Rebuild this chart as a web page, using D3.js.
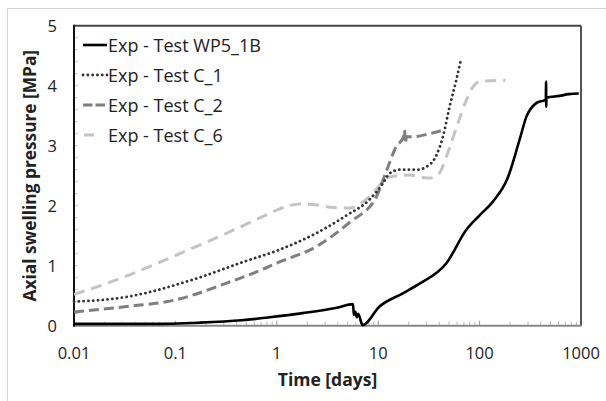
<!DOCTYPE html>
<html><head><meta charset="utf-8">
<script src="https://cdn.jsdelivr.net/npm/d3@7"></script>
<style>body{margin:0;background:#fff}svg{display:block}text{font-family:"Open Sans","Liberation Sans",sans-serif}</style>
</head><body><svg id="c" width="606" height="401"></svg>
<script>
const seriesNames = ["Exp - Test WP5_1B","Exp - Test C_1","Exp - Test C_2","Exp - Test C_6"];
const wp5_1b = [[0.01,0.03],[0.05,0.03],[0.17,0.05],[0.45,0.09],[0.85,0.14],[1.8,0.21],[3.9,0.30],[5.65,0.36],[5.75,0.18],[5.95,0.23],[6.15,0.14],[6.35,0.2],[7.0,0.01],[10.3,0.32],[17.5,0.54],[25.6,0.7],[47,1.04],[74,1.6],[100,1.84],[134,2.06],[189,2.46],[248,3.1],[289,3.48],[362,3.71],[450,3.77],[452,4.07],[454,3.65],[456,3.8],[614,3.83],[760,3.86],[950,3.87]];
const c_1 = [[0.01,0.40],[0.033,0.48],[0.15,0.77],[0.5,1.08],[1.0,1.25],[2.5,1.55],[5.0,1.85],[8.2,2.1],[11,2.36],[13,2.54],[16.3,2.6],[24,2.6],[30,2.65],[37,2.82],[43.5,3.15],[50.6,3.65],[59,4.1],[66,4.46]];
const c_2 = [[0.01,0.23],[0.033,0.32],[0.1,0.43],[0.32,0.71],[0.8,0.97],[1.02,1.05],[2.46,1.32],[5.2,1.72],[9.6,2.15],[12,2.57],[15,2.98],[17.8,3.15],[18.2,3.26],[18.5,3.04],[19,3.15],[22,3.15],[32,3.2],[44,3.26]];
const c_6 = [[0.01,0.52],[0.03,0.8],[0.1,1.17],[0.3,1.52],[0.8,1.85],[1.2,1.98],[1.7,2.03],[2.5,2.01],[3.6,1.97],[5.2,1.96],[8.2,2.15],[13,2.48],[20,2.51],[32,2.46],[40,2.54],[47,2.82],[61,3.37],[74,3.76],[86,3.98],[100,4.07],[180,4.09]];
const xTicks = [0.01,0.1,1,10,100,1000];
const xTickLabels = ["0.01","0.1","1","10","100","1000"];
const yTicks = [0,1,2,3,4,5];

const svg = d3.select("#c");
const L=74,R=581,T=25.7,B=325.7;
const x = d3.scaleLog().domain([0.01,1000]).range([L,R]);
const y = d3.scaleLinear().domain([0,5]).range([B,T]);

svg.append("rect").attr("x",7.5).attr("y",8.5).attr("width",620).attr("height",420).attr("fill","none").attr("stroke","#d4d4d4").attr("stroke-width",1);

const minor=[];
for(let e=-2;e<3;e++) for(let k=2;k<=9;k++) minor.push(k*Math.pow(10,e));
svg.append("g").selectAll("line").data(minor).join("line")
  .attr("x1",d=>x(d)).attr("x2",d=>x(d)).attr("y1",B).attr("y2",B-4).attr("stroke","#bbb").attr("stroke-width",1);
svg.append("g").selectAll("line").data(xTicks).join("line")
  .attr("x1",d=>x(d)).attr("x2",d=>x(d)).attr("y1",B).attr("y2",B-5).attr("stroke","#999").attr("stroke-width",1);
const yMinor=d3.range(0,25).map(i=>i*0.2);
svg.append("g").selectAll("line").data(yMinor).join("line")
  .attr("x1",L).attr("x2",L+4).attr("y1",d=>y(d)).attr("y2",d=>y(d)).attr("stroke","#ccc").attr("stroke-width",1);

svg.append("line").attr("x1",L).attr("x2",R).attr("y1",T).attr("y2",T).attr("stroke","#444").attr("stroke-width",2);
svg.append("line").attr("x1",R).attr("x2",R).attr("y1",T).attr("y2",B).attr("stroke","#555").attr("stroke-width",2);
svg.append("line").attr("x1",L).attr("x2",R).attr("y1",B).attr("y2",B).attr("stroke","#888").attr("stroke-width",2);
svg.append("line").attr("x1",L).attr("x2",L).attr("y1",T-1).attr("y2",B+1).attr("stroke","#111").attr("stroke-width",2);

svg.append("g").selectAll("text").data(xTicks).join("text")
  .attr("x",d=>x(d)).attr("y",B+33).attr("text-anchor","middle").attr("font-size",16.5).attr("fill","#222")
  .text((d,i)=>xTickLabels[i]);
svg.append("g").selectAll("text").data(yTicks).join("text")
  .attr("x",L-17).attr("y",d=>y(d)+6).attr("text-anchor","end").attr("font-size",16.5).attr("fill","#222").text(d=>d);

svg.append("text").attr("x",(L+R)/2).attr("y",386).attr("text-anchor","middle").attr("font-size",17.5).attr("font-weight","bold").attr("fill","#222").text("Time [days]");
svg.append("text").attr("transform",`translate(36,${(T+B)/2}) rotate(-90)`).attr("text-anchor","middle").attr("font-size",17.3).attr("font-weight","bold").attr("fill","#222").text("Axial swelling pressure [MPa]");

const line = d3.line().x(d=>x(d[0])).y(d=>y(d[1])).curve(d3.curveMonotoneX);
const styles=[
  {data:wp5_1b,stroke:"#000",w:2.6,dash:null,cap:"butt"},
  {data:c_1,stroke:"#333",w:2.8,dash:"0.1 4.7",cap:"round"},
  {data:c_2,stroke:"#7f7f7f",w:3,dash:"10 5",cap:"butt"},
  {data:c_6,stroke:"#c4c4c4",w:3,dash:"11 7",cap:"butt"}
];
const g=svg.append("g");
[3,2,1,0].forEach(i=>{
  const s=styles[i];
  g.append("path").attr("d",line(s.data)).attr("fill","none").attr("stroke",s.stroke).attr("stroke-width",s.w)
   .attr("stroke-dasharray",s.dash).attr("stroke-linecap",s.cap).attr("stroke-linejoin","round");
});

const lg=svg.append("g");
seriesNames.forEach((n,i)=>{
  const s=styles[i], yy=45+30*i;
  const ln=lg.append("line").attr("y1",yy).attr("y2",yy).attr("stroke",s.stroke).attr("stroke-width",s.w).attr("stroke-linecap",s.cap);
  if(i===3){ ln.attr("x1",84).attr("x2",94); }
  else { ln.attr("x1",83).attr("x2",107).attr("stroke-dasharray",i===2?"9.5 3":s.dash); }
  lg.append("text").attr("x",108).attr("y",yy+6.5).attr("font-size",18).attr("fill","#222").text(n);
});
</script></body></html>
